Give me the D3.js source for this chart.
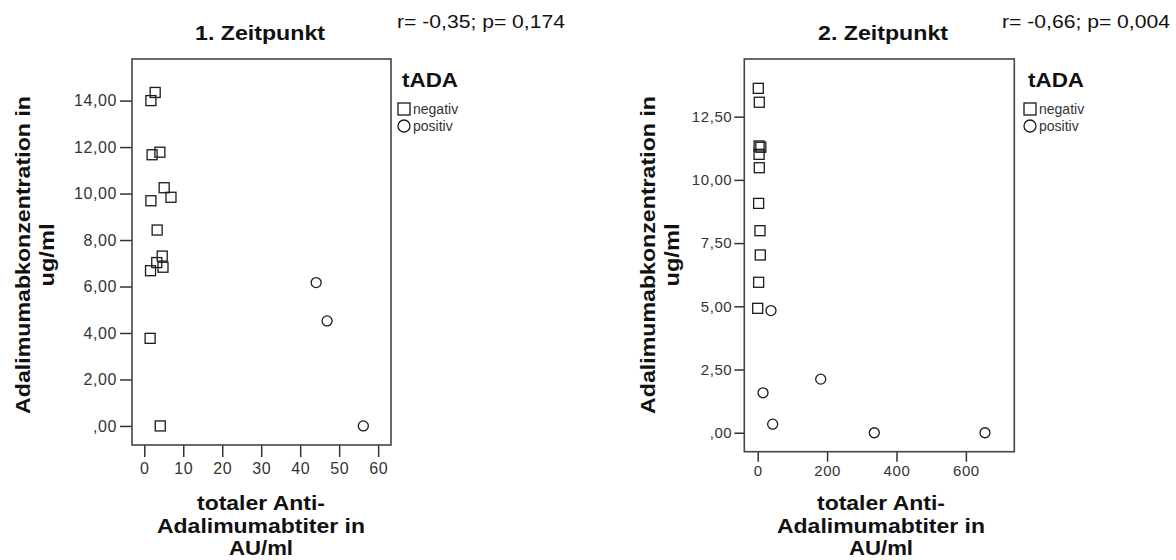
<!DOCTYPE html>
<html>
<head>
<meta charset="utf-8">
<script src="https://cdn.jsdelivr.net/npm/d3@7"></script>
<style>
  html, body { margin: 0; padding: 0; background: #fff; }
  svg { display: block; font-family: "Liberation Sans", Arial, sans-serif; }
</style>
</head>
<body>
<svg id="chart" width="1176" height="560"></svg>
<script>
// ---- shared labels ----
const groups = ["negativ", "positiv"];
const legendTitle = "tADA";
const xTitleLines = ["totaler Anti-", "Adalimumabtiter in", "AU/ml"];
const yTitleLines = ["Adalimumabkonzentration in", "ug/ml"];

// ---- 1. Zeitpunkt ----
const t1Title = "1. Zeitpunkt";
const t1Stats = "r= -0,35; p= 0,174";
const t1Negativ = [
  [1.7, 14.0], [2.8, 14.35], [2.0, 11.67], [4.0, 11.78],
  [1.7, 9.69], [6.85, 9.84], [5.1, 10.25], [3.3, 8.43],
  [4.6, 7.31], [3.2, 7.03], [4.8, 6.83], [1.6, 6.68],
  [1.5, 3.77], [4.1, 0.0]
];
const t1Positiv = [[44.1, 6.17], [46.9, 4.52], [56.2, 0.0]];
const t1XTicks = [0, 10, 20, 30, 40, 50, 60];
const t1YTicks = [0, 2, 4, 6, 8, 10, 12, 14];
const t1YTickLabels = [",00", "2,00", "4,00", "6,00", "8,00", "10,00", "12,00", "14,00"];

// ---- 2. Zeitpunkt ----
const t2Title = "2. Zeitpunkt";
const t2Stats = "r= -0,66; p= 0,004";
const t2Negativ = [
  [1.7, 13.62], [4.6, 13.07], [4.0, 11.34], [9.0, 11.29],
  [4.0, 11.01], [4.6, 10.48], [2.7, 9.07], [6.6, 7.99],
  [7.5, 7.03], [2.7, 5.95], [0.0, 4.92]
];
const t2Positiv = [
  [38.3, 4.83], [15.3, 1.58], [43.2, 0.34],
  [181.6, 2.12], [336, 0.0], [655, 0.0]
];
const t2XTicks = [0, 200, 400, 600];
const t2YTicks = [0, 2.5, 5, 7.5, 10, 12.5];
const t2YTickLabels = [",00", "2,50", "5,00", "7,50", "10,00", "12,50"];

// ---- layout of the two panels ----
const panels = [
  {
    title: t1Title, stats: t1Stats, negativ: t1Negativ, positiv: t1Positiv,
    xTicks: t1XTicks, yTicks: t1YTicks, yTickLabels: t1YTickLabels,
    xDomain: [-3.15, 63.3], yDomain: [-0.82, 15.79],
    frame: { left: 132, right: 391, top: 59, bottom: 445 },
    tick: { x: 12, xPad: 6, y: 12, yPad: 3, font: 16 },
    titleX: 260, statsX: 397, legendX: 398,
    yTitleX: [30, 54], xTitleX: 261
  },
  {
    title: t2Title, stats: t2Stats, negativ: t2Negativ, positiv: t2Positiv,
    xTicks: t2XTicks, yTicks: t2YTicks, yTickLabels: t2YTickLabels,
    xDomain: [-38.6, 739.5], yDomain: [-0.75, 14.78],
    frame: { left: 744.3, right: 1014.3, top: 59, bottom: 451.7 },
    tick: { x: 10, xPad: 4, y: 10, yPad: 2, font: 15 },
    titleX: 883, statsX: 1002, legendX: 1024,
    yTitleX: [655, 679], xTitleX: 881
  }
];

const svg = d3.select("#chart");
const ink = "#1a1a1a";

// text with a fixed rendered width
function fitText(sel, width) {
  return sel.attr("textLength", width).attr("lengthAdjust", "spacingAndGlyphs");
}

function squareMark(g, cx, cy, s) {
  g.append("rect")
    .attr("x", cx - s / 2).attr("y", cy - s / 2)
    .attr("width", s).attr("height", s)
    .attr("fill", "none").attr("stroke", ink).attr("stroke-width", 1.3);
}
function circleMark(g, cx, cy, r) {
  g.append("circle")
    .attr("cx", cx).attr("cy", cy).attr("r", r)
    .attr("fill", "none").attr("stroke", ink).attr("stroke-width", 1.3);
}

panels.forEach(p => {
  const f = p.frame;
  const x = d3.scaleLinear().domain(p.xDomain).range([f.left, f.right]);
  const y = d3.scaleLinear().domain(p.yDomain).range([f.bottom, f.top]);
  const g = svg.append("g");

  // title and correlation note
  fitText(g.append("text")
    .attr("x", p.titleX).attr("y", 39.5)
    .attr("text-anchor", "middle")
    .attr("font-size", 20).attr("font-weight", "bold").attr("fill", "#111")
    .text(p.title), 130);
  fitText(g.append("text")
    .attr("x", p.statsX).attr("y", 28)
    .attr("font-size", 18).attr("fill", "#111")
    .text(p.stats), 168);

  // y axis
  const yAxis = d3.axisLeft(y)
    .tickValues(p.yTicks)
    .tickFormat((d, i) => p.yTickLabels[i])
    .tickSize(p.tick.y).tickPadding(p.tick.yPad);
  const ya = g.append("g").attr("transform", `translate(${f.left},0)`).call(yAxis);
  ya.select(".domain").remove();
  ya.selectAll("line").attr("stroke", "#333").attr("stroke-width", 1.5);
  ya.selectAll("text").attr("font-size", p.tick.font).attr("fill", "#333")
    .attr("font-family", "Liberation Sans, Arial, sans-serif")
    .attr("letter-spacing", 0.6);

  // x axis
  const xAxis = d3.axisBottom(x)
    .tickValues(p.xTicks)
    .tickSize(p.tick.x).tickPadding(p.tick.xPad);
  const xa = g.append("g").attr("transform", `translate(0,${f.bottom})`).call(xAxis);
  xa.select(".domain").remove();
  xa.selectAll("line").attr("stroke", "#333").attr("stroke-width", 1.5);
  xa.selectAll("text").attr("font-size", p.tick.font).attr("fill", "#333")
    .attr("font-family", "Liberation Sans, Arial, sans-serif")
    .attr("letter-spacing", 0.6);

  // plot frame
  g.append("rect")
    .attr("x", f.left).attr("y", f.top)
    .attr("width", f.right - f.left).attr("height", f.bottom - f.top)
    .attr("fill", "none").attr("stroke", "#444").attr("stroke-width", 1.6);

  // points
  p.negativ.forEach(d => squareMark(g, x(d[0]), y(d[1]), 10));
  p.positiv.forEach(d => circleMark(g, x(d[0]), y(d[1]), 5));

  // axis titles
  const xWidths = [128, 208, 64];
  const xBase = [510, 533, 555];
  xTitleLines.forEach((line, i) => {
    fitText(g.append("text")
      .attr("x", p.xTitleX).attr("y", xBase[i])
      .attr("text-anchor", "middle")
      .attr("font-size", 21).attr("font-weight", "bold").attr("fill", "#111")
      .text(line), xWidths[i]);
  });

  const yWidths = [318, 63];
  yTitleLines.forEach((line, i) => {
    fitText(g.append("text")
      .attr("transform", `translate(${p.yTitleX[i]},255) rotate(-90)`)
      .attr("text-anchor", "middle")
      .attr("font-size", 21).attr("font-weight", "bold").attr("fill", "#111")
      .text(line), yWidths[i]);
  });

  // legend
  const lx = p.legendX;
  fitText(g.append("text")
    .attr("x", lx + 4).attr("y", 87)
    .attr("font-size", 20).attr("font-weight", "bold").attr("fill", "#111")
    .text(legendTitle), 56);
  squareMark(g, lx + 6, 109, 12);
  circleMark(g, lx + 6, 126, 6);
  g.append("text")
    .attr("x", lx + 15).attr("y", 114)
    .attr("font-size", 14).attr("fill", "#333")
    .text(groups[0]);
  g.append("text")
    .attr("x", lx + 15).attr("y", 131)
    .attr("font-size", 14).attr("fill", "#333")
    .text(groups[1]);
});
</script>
</body>
</html>
